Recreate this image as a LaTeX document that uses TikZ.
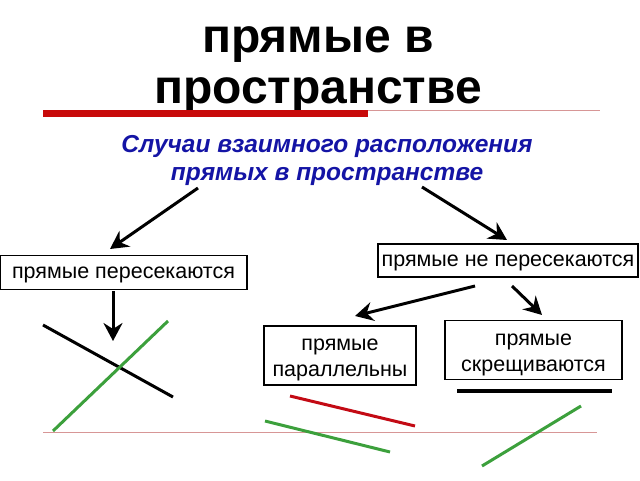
\documentclass[tikz,border=0pt]{standalone}
\usepackage{fontspec}
\setmainfont{Liberation Sans}
\usetikzlibrary{arrows.meta}
\definecolor{titlered}{RGB}{200,10,10}
\definecolor{thinred}{RGB}{215,150,150}
\definecolor{blueT}{RGB}{20,20,165}
\definecolor{lineG}{RGB}{60,160,60}
\definecolor{lineR}{RGB}{195,10,20}
\tikzset{
  box/.style={draw,line width=1.3pt,inner sep=0pt,font=\fontsize{21.5}{26}\selectfont},
  box1/.style={box,text height=13pt,text depth=2pt},
  box2/.style={box,align=center,text height=46pt,text depth=4pt},
  arr/.style={line width=3pt,-{Stealth[length=18pt,width=19pt,inset=6pt]}},
  seg/.style={line width=3pt},
}
\begin{document}
\begin{tikzpicture}[x=1pt,y=-1pt]
\useasboundingbox (0,0) rectangle (640,480);
% title
\node[font=\bfseries\fontsize{48}{52}\selectfont,anchor=base] (t1) at (318,52) {прямые в};
\node[font=\bfseries\fontsize{48}{52}\selectfont,anchor=base] (t2) at (318,103) {пространстве};
\coordinate (rb1) at (43,113);
\coordinate (rb2) at (368,113);
\coordinate (rt1) at (368,110);
\coordinate (rt2) at (600,110);
\draw[titlered,line width=7pt] (rb1) -- (rb2);
\draw[thinred,line width=0.8pt] (rt1) -- (rt2);
% subtitle
\node[font=\bfseries\itshape\fontsize{24.5}{28}\selectfont,text=blueT,anchor=base] (s1) at (327,152) {Случаи взаимного расположения};
\node[font=\bfseries\itshape\fontsize{24.5}{28}\selectfont,text=blueT,anchor=base] (s2) at (327,180) {прямых в пространстве};
% boxes
\node[box1,minimum width=247pt,minimum height=34pt] (b1) at (123.5,272.5) {прямые пересекаются};
\node[box1,minimum width=260pt,minimum height=33pt] (b2) at (508,260.5) {прямые не пересекаются};
\node[box2,minimum width=152pt,minimum height=59pt] (b3) at (340,355.5) {прямые\\параллельны};
\node[box2,minimum width=177pt,minimum height=59pt] (b4) at (533.5,350) {прямые\\скрещиваются};
% arrows
\coordinate (a1s) at (198,188);
\coordinate (a1e) at (110,249);
\coordinate (a2s) at (422,187);
\coordinate (a2e) at (507,240);
\coordinate (a3s) at (113,291);
\coordinate (a3e) at (113,341);
\coordinate (a4s) at (475,286);
\coordinate (a4e) at (355,316);
\coordinate (a5s) at (512,286);
\coordinate (a5e) at (542,315);
\draw[arr] (a1s) -- (a1e);
\draw[arr] (a2s) -- (a2e);
\draw[arr] (a3s) -- (a3e);
\draw[arr] (a4s) -- (a4e);
\draw[arr] (a5s) -- (a5e);
% baseline
\coordinate (bl1) at (43,432);
\coordinate (bl2) at (597,432);
\draw[thinred,line width=0.9pt] (bl1) -- (bl2);
% intersecting lines
\coordinate (k1) at (43,325);
\coordinate (k2) at (173,397);
\coordinate (g1) at (53,431);
\coordinate (g2) at (168,321);
\draw[seg,black] (k1) -- (k2);
\draw[seg,lineG] (g1) -- (g2);
% parallel lines
\coordinate (p1) at (290,396);
\coordinate (p2) at (415,426);
\coordinate (q1) at (265,421);
\coordinate (q2) at (390,452);
\draw[seg,lineR] (p1) -- (p2);
\draw[seg,lineG] (q1) -- (q2);
% skew lines
\coordinate (m1) at (457,391);
\coordinate (m2) at (612,391);
\coordinate (n1) at (482,466);
\coordinate (n2) at (581,406);
\draw[line width=4pt,black] (m1) -- (m2);
\draw[seg,lineG] (n1) -- (n2);
\end{tikzpicture}
\end{document}
